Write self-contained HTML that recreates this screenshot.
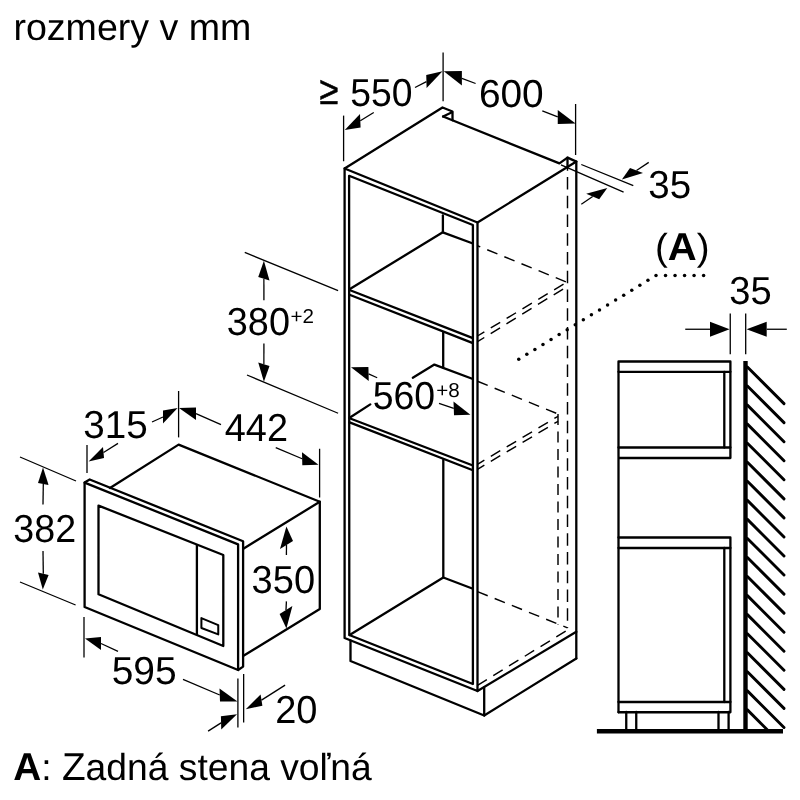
<!DOCTYPE html>
<html lang="sk">
<head>
<meta charset="utf-8">
<title>rozmery v mm</title>
<style>
html,body{margin:0;padding:0;background:#fff;}
body{width:800px;height:800px;overflow:hidden;}
svg{display:block;will-change:transform;}
text{font-family:"Liberation Sans",Arial,Helvetica,sans-serif;fill:#000;text-rendering:geometricPrecision;}
.m{stroke:#000;stroke-width:2.3;fill:none;stroke-linecap:round;stroke-linejoin:round;}
.t{stroke:#000;stroke-width:1.3;fill:none;}
.d{stroke:#000;stroke-width:1.45;fill:none;stroke-dasharray:11 7.5;}
.a{fill:#000;stroke:none;}
.h{stroke:#000;stroke-width:2.9;fill:none;stroke-linecap:round;}
.dot{stroke:#000;stroke-width:3.3;fill:none;stroke-linecap:round;stroke-dasharray:0 9.55;}
</style>
</head>
<body>
<svg width="800" height="800" viewBox="0 0 800 800">
<rect width="800" height="800" fill="#fff"/>

<!-- TEXT -->
<g font-size="39">
<text x="13.4" y="40.2" textLength="238" lengthAdjust="spacingAndGlyphs" font-size="37.5">rozmery v mm</text>
<text x="350.3" y="106.4" textLength="62.2" lengthAdjust="spacingAndGlyphs">550</text>
<text x="478.9" y="106.5" textLength="64.8" lengthAdjust="spacingAndGlyphs">600</text>
<text x="648.3" y="198.3" textLength="42.9" lengthAdjust="spacingAndGlyphs">35</text>
<text x="729.3" y="304.4" textLength="42.4" lengthAdjust="spacingAndGlyphs">35</text>
<text x="226.8" y="334.9" textLength="63.2" lengthAdjust="spacingAndGlyphs">380</text>
<text x="372.7" y="408.9" textLength="62.4" lengthAdjust="spacingAndGlyphs">560</text>
<text x="83.2" y="437.9" textLength="64.5" lengthAdjust="spacingAndGlyphs">315</text>
<text x="224.8" y="441.0" textLength="63.2" lengthAdjust="spacingAndGlyphs">442</text>
<text x="13.3" y="542.2" textLength="62.8" lengthAdjust="spacingAndGlyphs">382</text>
<text x="251.6" y="592.8" textLength="63.5" lengthAdjust="spacingAndGlyphs">350</text>
<text x="111.7" y="684.0" textLength="65.0" lengthAdjust="spacingAndGlyphs">595</text>
<text x="275.2" y="722.6" textLength="42.3" lengthAdjust="spacingAndGlyphs">20</text>
<text x="13.3" y="779.8" textLength="358.5" lengthAdjust="spacingAndGlyphs" font-size="37.5"><tspan font-weight="bold" font-size="39">A</tspan>: <tspan font-size="39">Z</tspan>adná stena voľná</text>
<text x="654.9" y="260" textLength="54.6" lengthAdjust="spacingAndGlyphs" font-size="37.5">(<tspan font-weight="bold" font-size="39">A</tspan>)</text>
<text transform="translate(319.5 104) scale(1.04 1.2)" x="0" y="0" font-size="33" stroke="#000" stroke-width="0.5">≥</text>
</g>
<g font-size="20">
<text x="290.5" y="322.8" textLength="23.5" lengthAdjust="spacingAndGlyphs">+2</text>
<text x="436.3" y="396.6" textLength="23.5" lengthAdjust="spacingAndGlyphs">+8</text>
</g>

<!-- TALL CABINET -->
<g class="m">
<!-- front frame -->
<path d="M344.6 638 L344.6 168.5 L477.5 222.5 L477.5 691 Z"/>
<path d="M349.3 635 L349.1 175.8 L472.9 225 L472.9 684 Z"/>
<!-- top -->
<path d="M344.6 168.5 L442.5 107.5 L452.5 111.5 L452.5 120.3"/>
<path d="M443.1 116.5 L559.4 163.4 L567.5 157.6 L576.4 161.6 L477.5 222.5"/>
<path d="M443.1 116.5 L452 112.2"/>
<path d="M576.3 161.6 L576.3 658.4"/>
<path d="M567.5 157.6 L567.5 166.5"/>
<!-- interior -->
<path d="M442.9 215.5 L442.9 232.3"/>
<path d="M349.5 289.2 L442.8 232.3 L472.9 243.5"/>
<path d="M349.5 290 L472.9 338.1 M349.5 294.7 L472.9 343.1"/>
<path d="M443.2 332.5 L443.2 367.5"/>
<path d="M412.8 377.75 L434.4 364.6 L472.9 379"/>
<path d="M370.3 404.4 L349.6 417.8"/>
<path d="M349.6 418.3 L472.9 465.5 M349.6 422.4 L472.9 470.3"/>
<path d="M443.3 460 L443.3 577.5"/>
<path d="M349.6 635 L443.3 577.5 L472.9 588.75"/>
<!-- plinth + bottom -->
<path d="M477.5 691 L576.3 631.8"/>
<path d="M350.5 640.5 L350.5 661 L484.2 715.5 L484.2 687.5"/>
<path d="M484.2 715.5 L576.3 658.4"/>
</g>
<g class="d">
<path d="M477.5 245.75 L567 282.3" stroke-dashoffset="8"/>
<path d="M477.5 336 L567 282 M477.5 341.7 L567 286.6" stroke-dashoffset="3"/>
<path d="M477.5 381.25 L558 414"/>
<path d="M477.5 464.3 L558 416.3 M477.5 469.3 L558 421.3" stroke-dashoffset="3"/>
<path d="M558 414 L558 624.4" stroke-dasharray="11 6.5"/>
<path d="M567.5 166.5 L567.5 627.8" stroke-dasharray="12.5 6.25" stroke-dashoffset="8.25"/>
<path d="M477.5 591.6 L567.5 627.8"/>
<path d="M477.5 685.3 L567.5 630"/>
</g>

<!-- MICROWAVE -->
<g class="m" stroke-width="2.65">
<path d="M84.6 607 L84.6 482.6 L89.7 479.5 L243.1 541.25 L243.1 666.6 L238.1 670 Z"/>
<path d="M84.6 482.6 L238.1 544.4 L238.1 670"/>
<path d="M98.5 505.6 L223.3 555 L223.3 646 L98.5 594.2 Z"/>
<path d="M196.9 545.5 L196.9 634.5"/>
<path d="M201.4 618.1 L218.25 625.1 L218.25 634.4 L201.4 628 Z" stroke-width="2"/>
<path d="M110 488 L178.6 444.6 L319.8 501.75 L243.75 548.5"/>
<path d="M319.8 501.75 L319.8 609 L243.1 656"/>
</g>

<!-- SIDE VIEW -->
<g class="m" stroke-linecap="butt">
<path d="M618.5 712.25 L618.5 361.5 L730.4 361.5 L730.4 458 L618.5 458"/>
<path d="M618.5 371.8 L730.4 371.8"/>
<path d="M724.3 371.8 L724.3 447.5"/>
<path d="M618.5 447.5 L730.4 447.5"/>
<path d="M618.5 537.5 L730.4 537.5 L730.4 712.25 L618.5 712.25"/>
<path d="M618.5 548 L730.4 548"/>
<path d="M724.3 548 L724.3 702"/>
<path d="M618.5 702 L730.4 702"/>
<path d="M626.25 712 L626.25 730 M636.25 712 L636.25 730 M718.5 712 L718.5 730 M728.6 712 L728.6 730"/>
</g>
<line x1="596.9" y1="731.3" x2="783" y2="731.3" stroke="#000" stroke-width="4.6"/>
<line x1="745.5" y1="361" x2="745.5" y2="733" stroke="#000" stroke-width="4.4"/>
<g class="h">
<line x1="747.4" y1="367.00" x2="784.00" y2="403.60"/>
<line x1="747.4" y1="386.05" x2="784.00" y2="422.65"/>
<line x1="747.4" y1="405.10" x2="784.00" y2="441.70"/>
<line x1="747.4" y1="424.15" x2="784.00" y2="460.75"/>
<line x1="747.4" y1="443.20" x2="784.00" y2="479.80"/>
<line x1="747.4" y1="462.25" x2="784.00" y2="498.85"/>
<line x1="747.4" y1="481.30" x2="784.00" y2="517.90"/>
<line x1="747.4" y1="500.35" x2="784.00" y2="536.95"/>
<line x1="747.4" y1="519.40" x2="784.00" y2="556.00"/>
<line x1="747.4" y1="538.45" x2="784.00" y2="575.05"/>
<line x1="747.4" y1="557.50" x2="784.00" y2="594.10"/>
<line x1="747.4" y1="576.55" x2="784.00" y2="613.15"/>
<line x1="747.4" y1="595.60" x2="784.00" y2="632.20"/>
<line x1="747.4" y1="614.65" x2="784.00" y2="651.25"/>
<line x1="747.4" y1="633.70" x2="784.00" y2="670.30"/>
<line x1="747.4" y1="652.75" x2="784.00" y2="689.35"/>
<line x1="747.4" y1="671.80" x2="784.00" y2="708.40"/>
<line x1="747.4" y1="690.85" x2="784.00" y2="727.45"/>
<line x1="747.4" y1="709.90" x2="767.00" y2="729.50"/>
</g>

<!-- dotted leader -->
<g class="a">
<circle cx="703.60" cy="275.40" r="1.75"/>
<circle cx="694.08" cy="275.40" r="1.75"/>
<circle cx="684.56" cy="275.40" r="1.75"/>
<circle cx="675.04" cy="275.40" r="1.75"/>
<circle cx="665.52" cy="275.40" r="1.75"/>
<circle cx="656.00" cy="275.40" r="1.75"/>
<circle cx="647.93" cy="280.33" r="1.75"/>
<circle cx="639.85" cy="285.26" r="1.75"/>
<circle cx="631.78" cy="290.20" r="1.75"/>
<circle cx="623.71" cy="295.13" r="1.75"/>
<circle cx="615.63" cy="300.06" r="1.75"/>
<circle cx="607.56" cy="304.99" r="1.75"/>
<circle cx="599.49" cy="309.93" r="1.75"/>
<circle cx="591.41" cy="314.86" r="1.75"/>
<circle cx="583.34" cy="319.79" r="1.75"/>
<circle cx="575.26" cy="324.72" r="1.75"/>
<circle cx="567.19" cy="329.66" r="1.75"/>
<circle cx="559.12" cy="334.59" r="1.75"/>
<circle cx="551.04" cy="339.52" r="1.75"/>
<circle cx="542.97" cy="344.45" r="1.75"/>
<circle cx="534.90" cy="349.39" r="1.75"/>
<circle cx="526.82" cy="354.32" r="1.75"/>
<circle cx="518.75" cy="359.25" r="1.75"/>
</g>

<!-- DIMENSION LINES -->
<g class="t">
<path d="M343.6 115.6 L343.6 161.25"/>
<path d="M443.1 52.5 L443.1 101.25"/>
<path d="M575.6 104 L575.6 155"/>
<path d="M561 164.9 L623.6 192.2 M581.3 164.5 L633.3 185.7"/>
<path d="M244.75 252.4 L338.1 290.6 M247 375 L338.1 413.25"/>
<path d="M87 445 L87 473"/>
<path d="M178.6 391 L178.6 437.4"/>
<path d="M319.6 448.75 L319.6 497.5"/>
<path d="M20 457 L76 481 M20 582 L75.6 605"/>
<path d="M84 617 L84 657.4"/>
<path d="M237.9 678.6 L237.9 727.6 M243.65 673.9 L243.65 722.4"/>
<path d="M730.25 313.5 L730.25 354.3 M745.7 313.5 L745.7 354.3"/>
<path d="M373.75 112.5 L360.30 120.75"/>
<path d="M415 87.5 L426.43 81.55"/>
<path d="M475.6 83.5 L461.90 78.30"/>
<path d="M542.3 110.8 L557.75 116.95"/>
<path d="M648.75 162.4 L636.50 170.55"/>
<path d="M581.3 204.2 L592.70 196.55"/>
<path d="M263.9 300.3 L263.88 278.80"/>
<path d="M263.9 343.5 L263.88 364.30"/>
<path d="M377.2 377.75 L368.57 373.95"/>
<path d="M439 403.4 L453.75 408.38"/>
<path d="M118 443.4 L103.50 452.50"/>
<path d="M152 422 L163.00 417.00"/>
<path d="M221 424.6 L196.00 413.70"/>
<path d="M275.75 447.7 L302.15 458.73"/>
<path d="M43 504.4 L43.30 484.00"/>
<path d="M43 551 L43.30 573.70"/>
<path d="M286.4 555 L286.50 545.00"/>
<path d="M286.4 601.4 L286.00 610.00"/>
<path d="M118 651.4 L101.00 643.50"/>
<path d="M183 679.4 L219.75 695.00"/>
<path d="M285.1 685.1 L261.50 700.08"/>
<path d="M208.1 731.1 L221.07 722.83"/>
<path d="M685.25 329.25 L710.00 329.25"/>
<path d="M786.8 329.25 L766.70 329.25"/>
</g>

<!-- ARROWHEADS -->
<g class="a">
<path d="M344.75 130 L360 114 L360.6 127.5 Z"/>
<path d="M442.5 71.25 L426.25 75 L426.6 88.1 Z"/>
<path d="M443.75 71.25 L461.9 71 L461.9 85.6 Z"/>
<path d="M575.6 123.4 L557.75 110 L557.75 123.9 Z"/>
<path d="M621.9 179.5 L630 168.1 L643 173 Z"/>
<path d="M607.3 188 L586.2 193.8 L599.2 199.3 Z"/>
<path d="M263.9 260.7 L258.25 277.1 L269.5 280.5 Z"/>
<path d="M263.9 381.75 L258.25 362.6 L269.5 366 Z"/>
<path d="M351 367.25 L368.4 366.9 L368.75 381 Z"/>
<path d="M470.4 414.7 L453.5 401.5 L454 415.25 Z"/>
<path d="M88.6 461.4 L103 447 L104 458 Z"/>
<path d="M177.6 408 L163 410.6 L163 423.4 Z"/>
<path d="M179 408 L196 407.4 L196 420 Z"/>
<path d="M318.5 464.8 L302 452.2 L302.3 465.25 Z"/>
<path d="M43 467.6 L38 483 L48.6 485 Z"/>
<path d="M42.8 589.6 L38 572.4 L48.6 575 Z"/>
<path d="M286.4 526.6 L280 549 L293 541 Z"/>
<path d="M286.4 628.6 L279.6 614 L292.4 606 Z"/>
<path d="M85 638.6 L101 637 L101 650 Z"/>
<path d="M237.5 701.4 L219.5 688.6 L220 701.4 Z"/>
<path d="M245.75 709.25 L260.6 694.4 L262.4 705.75 Z"/>
<path d="M237 714.15 L220.9 716.25 L221.25 729.4 Z"/>
<path d="M729.6 329.25 L710 321.75 L710 336.75 Z"/>
<path d="M746.6 329.25 L766.7 321.75 L766.7 336.75 Z"/>
</g>
</svg>
</body>
</html>
